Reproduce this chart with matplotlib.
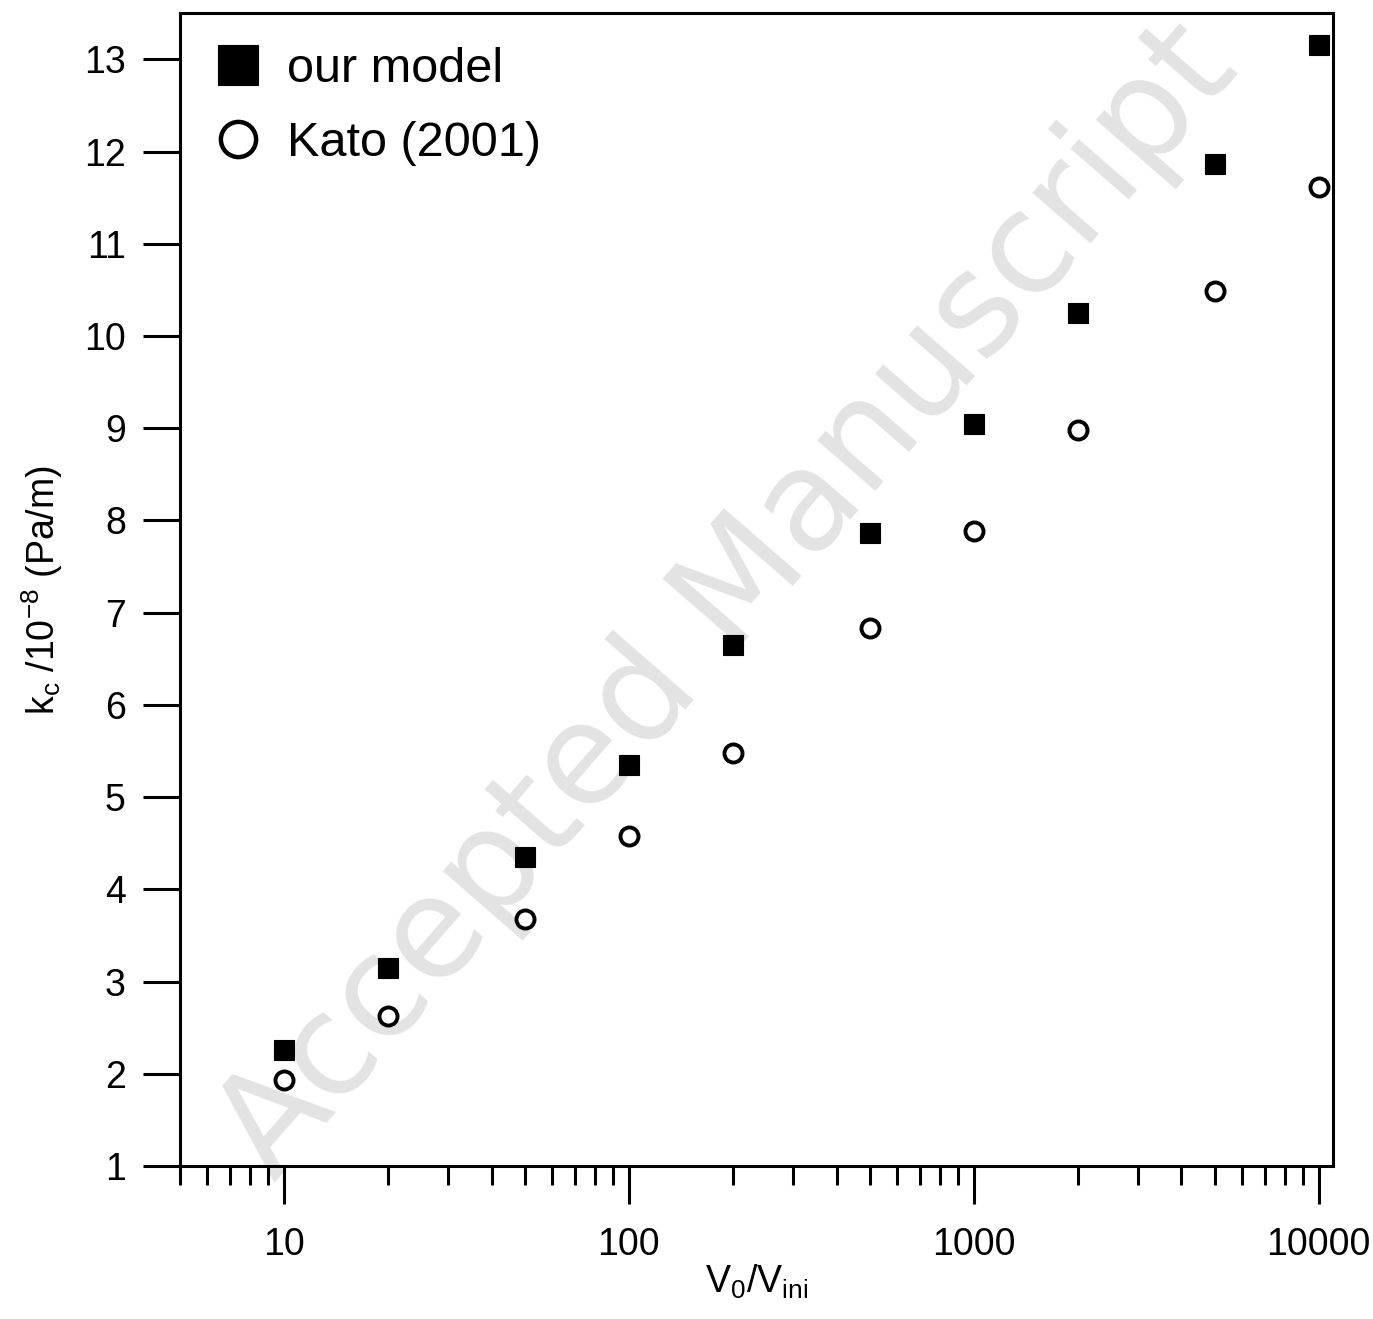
import matplotlib
matplotlib.use('Agg')
import matplotlib.pyplot as plt
from matplotlib.ticker import LogLocator, NullFormatter, FixedLocator

plt.rcParams['font.family'] = ['Liberation Sans', 'DejaVu Sans']

# --- data ---
ratio = [10, 20, 50, 100, 200, 500, 1000, 2000, 5000, 10000]
kc_model = [2.26, 3.15, 4.35, 5.35, 6.65, 7.86, 9.05, 10.25, 11.86, 13.16]
kc_kato = [1.93, 2.63, 3.68, 4.58, 5.48, 6.83, 7.88, 8.98, 10.49, 11.62]

x_ticks = [10, 100, 1000, 10000]
x_tick_labels = ['10', '100', '1000', '10000']
y_ticks = list(range(1, 14))

LW = 2.2

fig = plt.figure(figsize=(13.73, 13.19), dpi=100)
ax = fig.add_axes([0.1311, 0.116, 0.8398, 0.874])

# watermark
ax.text(0.475, 0.49, 'Accepted Manuscript', transform=ax.transAxes,
        rotation=49, ha='center', va='center', fontsize=101,
        color='#e3e3e3', zorder=0, rotation_mode='anchor',
        family=['DejaVu Sans'])

ax.plot(ratio, kc_model, linestyle='none', marker='s', markersize=15,
        markerfacecolor='black', markeredgecolor='black', markeredgewidth=0.8,
        label='our model', zorder=3)
ax.plot(ratio, kc_kato, linestyle='none', marker='o', markersize=13,
        markerfacecolor='white', markeredgecolor='black', markeredgewidth=2.8,
        label='Kato (2001)', zorder=3)

ax.set_xscale('log')
ax.set_xlim(5, 11000)
ax.set_ylim(1, 13.5)

ax.xaxis.set_major_locator(FixedLocator(x_ticks))
ax.set_xticklabels(x_tick_labels)
ax.xaxis.set_minor_locator(LogLocator(base=10, subs=range(2, 10), numticks=20))
ax.xaxis.set_minor_formatter(NullFormatter())
ax.set_yticks(y_ticks)

ax.tick_params(axis='both', which='major', direction='out', length=27,
               width=LW, labelsize=27, pad=12, top=False, right=False)
ax.tick_params(axis='x', which='minor', direction='out', length=13.5,
               width=LW, top=False)
ax.tick_params(axis='x', which='major', pad=17)
for s in ax.spines.values():
    s.set_linewidth(LW)

ax.set_xlabel(r'V$_\mathregular{0}$/V$_\mathregular{ini}$', fontsize=27, labelpad=0)
ax.set_ylabel(r'k$_\mathregular{c}$ /10$^\mathregular{-8}$ (Pa/m)', fontsize=27, labelpad=14)

leg = ax.legend(loc='upper left', frameon=False, fontsize=35, markerscale=1.95,
                handletextpad=0.5, borderaxespad=0.3, labelspacing=0.6,
                handlelength=1.0)
leg.legend_handles[1].set_markeredgewidth(3.2)

fig.savefig('out.png', dpi=100, facecolor='white')
